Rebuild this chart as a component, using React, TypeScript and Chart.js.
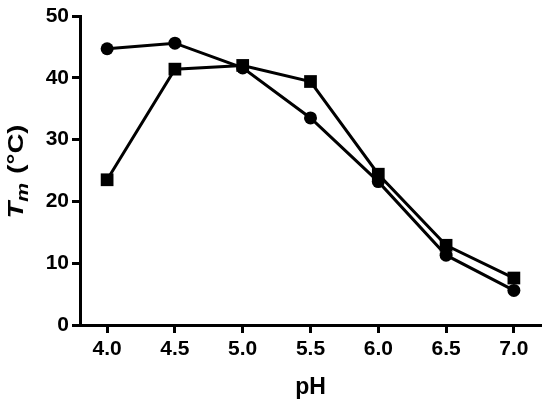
import { useEffect, useRef } from "react"
import { Chart, registerables } from "chart.js"

Chart.register(...registerables)

// pH values on the x axis
const phValues = [4.0, 4.5, 5.0, 5.5, 6.0, 6.5, 7.0]
// Tm (°C) for the circle series
const circleTm = [44.7, 45.6, 41.6, 33.5, 23.2, 11.3, 5.6]
// Tm (°C) for the square series
const squareTm = [23.5, 41.4, 42.0, 39.4, 24.4, 12.9, 7.6]

const xTicks = [4.0, 4.5, 5.0, 5.5, 6.0, 6.5, 7.0]
const yTicks = [0, 10, 20, 30, 40, 50]

const FONT = "'Liberation Sans', Arial, Helvetica, sans-serif"

// draws the rotated "Tm (°C)" title with an italic T and subscript m
const yTitlePlugin = {
  id: "yTitle",
  afterDraw(chart: Chart) {
    const { ctx, chartArea } = chart
    const cx = 17
    const cy = (chartArea.top + chartArea.bottom) / 2 + 1
    ctx.save()
    ctx.translate(cx, cy)
    ctx.rotate(-Math.PI / 2)
    ctx.fillStyle = "#000"
    ctx.textBaseline = "middle"
    ctx.textAlign = "left"
    const big = `italic bold 22px ${FONT}`
    const small = `italic bold 17px ${FONT}`
    const rest = `bold 22px ${FONT}`
    ctx.font = big
    const wT = ctx.measureText("T").width
    ctx.font = small
    const wM = ctx.measureText("m").width
    ctx.font = rest
    const wR = ctx.measureText(" (°C)").width
    const total = wT + wM + 1 + wR
    // the reference lettering is drawn a little wide
    ctx.scale(94 / total, 1)
    let x = -total / 2
    ctx.font = big
    ctx.fillText("T", x, 0)
    x += wT
    ctx.font = small
    ctx.fillText("m", x, 6)
    x += wM + 1
    ctx.font = rest
    ctx.fillText(" (°C)", x, 0)
    ctx.restore()
  },
}

export default function App() {
  const chartRef = useRef<HTMLCanvasElement>(null)
  const chartInstance = useRef<Chart | null>(null)

  useEffect(() => {
    if (!chartRef.current) return
    if (chartInstance.current) {
      chartInstance.current.destroy()
    }
    const ctx = chartRef.current.getContext("2d")
    if (!ctx) return

    const tickFont = { family: FONT, size: 21, weight: "bold" as const }

    chartInstance.current = new Chart(ctx, {
      type: "line",
      data: {
        datasets: [
          {
            label: "circle",
            data: phValues.map((x, i) => ({ x, y: circleTm[i] })),
            borderColor: "#000",
            backgroundColor: "#000",
            borderWidth: 3,
            pointStyle: "circle",
            pointRadius: 6.5,
            pointBorderWidth: 0,
          },
          {
            label: "square",
            data: phValues.map((x, i) => ({ x, y: squareTm[i] })),
            borderColor: "#000",
            backgroundColor: "#000",
            borderWidth: 3,
            pointStyle: "rect",
            pointRadius: 9,
            pointBorderWidth: 0,
          },
        ],
      },
      options: {
        animation: false,
        responsive: true,
        maintainAspectRatio: false,
        layout: { padding: { left: 0, top: 16, right: 7, bottom: 0 } },
        plugins: {
          legend: { display: false },
          tooltip: { enabled: false },
        },
        scales: {
          x: {
            type: "linear",
            min: 3.8,
            max: 7.2,
            afterBuildTicks: (axis) => {
              axis.ticks = xTicks.map((value) => ({ value }))
            },
            afterFit: (axis) => {
              axis.height = 80
            },
            ticks: {
              color: "#000",
              font: tickFont,
              padding: 4,
              callback: (v) => Number(v).toFixed(1),
            },
            grid: {
              drawOnChartArea: false,
              drawTicks: true,
              tickLength: 8,
              tickWidth: 3,
              color: "#000",
            },
            border: { display: true, width: 3, color: "#000" },
            title: {
              display: true,
              text: "pH",
              color: "#000",
              font: { family: FONT, size: 23, weight: "bold" },
              padding: { top: 0, bottom: 4 },
            },
          },
          y: {
            type: "linear",
            min: 0,
            max: 50,
            afterBuildTicks: (axis) => {
              axis.ticks = yTicks.map((value) => ({ value }))
            },
            afterFit: (axis) => {
              axis.width = 80
            },
            ticks: {
              color: "#000",
              font: tickFont,
              padding: 3,
            },
            grid: {
              drawOnChartArea: false,
              drawTicks: true,
              tickLength: 8,
              tickWidth: 3,
              color: "#000",
            },
            border: { display: true, width: 3, color: "#000" },
          },
        },
      },
      plugins: [yTitlePlugin],
    })

    return () => {
      if (chartInstance.current) {
        chartInstance.current.destroy()
        chartInstance.current = null
      }
    }
  }, [])

  return (
    <div style={{ position: "fixed", left: 0, top: 0, width: 550, height: 405, background: "#fff" }}>
      <canvas ref={chartRef} />
    </div>
  )
}
